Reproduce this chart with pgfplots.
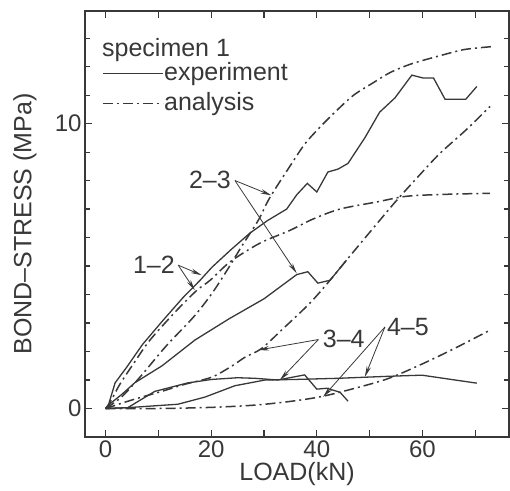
\documentclass[border=0pt]{standalone}
\usepackage{pgfplots}
\pgfplotsset{compat=1.18}
\usepackage{fontspec}
\setmainfont{Liberation Sans}
\usetikzlibrary{arrows.meta}
\definecolor{ink}{gray}{0.22}
\tikzset{dashdot/.style={dash pattern=on 10pt off 4pt on 2pt off 4pt}}
\begin{document}
\begin{tikzpicture}
\useasboundingbox (-85pt,-53pt) rectangle (425pt,437pt);
\begin{axis}[
  at={(0,0)}, anchor=south west,
  scale only axis, width=424pt, height=426pt,
  xmin=-3.9, xmax=76.4, ymin=-1, ymax=13.95,
  xtick={0,10,...,70}, xticklabels={0,,20,,40,,60,},
  ytick={0,10}, minor ytick={-1,1,2,3,4,5,6,7,8,9,11,12,13},
  major tick length=7pt, minor tick length=5pt,
  tick align=inside,
  axis line style={ink, line width=1.3pt},
  every tick/.style={ink, line width=1.1pt},
  tick label style={font=\fontsize{24}{28}\selectfont, text=ink},
  /pgf/number format/assume math mode=true,
  xlabel={LOAD(kN)}, ylabel={BOND--STRESS (MPa)},
  label style={font=\fontsize{25}{30}\selectfont, text=ink},
  xlabel style={at={(axis description cs:0.5,0)}, anchor=base, yshift=-43pt},
  ylabel style={at={(axis description cs:0,0.5)}, anchor=center, rotate=0, yshift=60pt},
  legend style={at={(axis description cs:0.04,0.883)}, anchor=north west,
    draw=none, fill=none, inner sep=0pt, row sep=5pt,
    font=\fontsize{25}{30}\selectfont, text=ink,
    nodes={inner xsep=0.5pt, inner ysep=0pt, text height=19pt, text depth=6pt},
    /tikz/every even column/.append style={column sep=0pt}},
  legend cell align=left,
  legend image code/.code={\draw[#1] (0pt,0pt) -- (60pt,0pt);},
]
% --- experiments (solid)
\addplot[ink, line width=1.3pt] coordinates {
(0,0) (0.5,0.1) (1.8,0.9) (4.0,1.45) (7.0,2.25) (10.9,3.1) (14.7,3.9) (17.9,4.5)
(20.1,4.95) (23.6,5.55) (27.3,6.15) (30.7,6.6) (34.3,7.0) (36.2,7.5) (38.2,7.9)
(40.0,7.6) (42.1,8.3) (44.0,8.4) (45.9,8.6) (49.1,9.5) (51.9,10.4) (54.8,10.9)
(58.0,11.7) (60.1,11.6) (62.1,11.6) (64.3,10.85) (68.2,10.85) (70.3,11.3)};
\addlegendentry{experiment}
\addplot[ink, line width=1.5pt, dashdot] coordinates {(0,0)};
\addlegendentry{analysis}
\addplot[ink, line width=1.3pt, forget plot] coordinates {
(0,0) (0.4,0.1) (3.1,0.5) (5.5,0.9) (10.7,1.5) (16.9,2.4) (23.4,3.15) (30.0,3.85)
(36.2,4.7) (38.3,4.8) (40.2,4.4) (42.5,4.5) (45.6,5.2)};
\addplot[ink, line width=1.3pt, forget plot] coordinates {
(0,0) (4.2,0.03) (9.3,0.6) (15.6,0.9) (20.1,1.02) (25,1.08) (28.3,1.06) (32.6,1.0)
(37.7,1.18) (40.0,0.68) (41.9,0.71) (44.4,0.57) (45.9,0.26)};
\addplot[ink, line width=1.3pt, forget plot] coordinates {
(0,0) (4.2,0.03) (13.7,0.15) (18.8,0.4) (24.5,0.8) (30.2,1.0) (36,1.02) (44,1.06)
(53.5,1.13) (59.9,1.17) (66.2,1.0) (70.3,0.89)};
% --- analysis (dash-dot)
\addplot[ink, line width=1.5pt, dashdot, smooth, forget plot] coordinates {
(0,0) (3,0.4) (6.5,1.1) (11.5,2.2) (16.6,3.2) (20,4.0) (23,4.85) (25.8,5.7) (28.9,6.6)
(31.1,7.4) (34.9,8.5) (37.8,9.3) (41,9.95) (44,10.5) (47,11.0) (50.4,11.4) (54,11.8)
(58,12.1) (63.7,12.4) (68,12.6) (73.2,12.7)};
\addplot[ink, line width=1.5pt, dashdot, smooth, forget plot] coordinates {
(0,0) (0.8,0.2) (2.7,0.85) (5.2,1.55) (8.4,2.4) (13.5,3.45) (17.3,4.15) (19.8,4.5)
(23.6,5.15) (29.2,5.8) (34.9,6.25) (39.3,6.65) (44.4,7.0) (51.4,7.25) (57.1,7.45)
(65,7.52) (72.8,7.55)};
\addplot[ink, line width=1.5pt, dashdot, smooth, forget plot] coordinates {
(0,0) (5,0.3) (10.6,0.6) (15,0.85) (20.1,1.1) (24,1.5) (26.4,1.8) (29.5,2.1) (33.6,2.8)
(38.7,3.7) (42.5,4.5) (45.6,5.2) (51,6.4) (55.1,7.3) (59.5,8.2) (63.3,8.95) (68.4,9.8)
(72.8,10.6)};
\addplot[ink, line width=1.5pt, dashdot, smooth, forget plot] coordinates {
(0,0) (10,0.0) (20,0.04) (28.3,0.12) (35,0.25) (40.9,0.42) (47,0.7) (53.5,1.05)
(59.8,1.55) (66,2.1) (72.8,2.75)};
% --- title of legend
\node[anchor=base west, font=\fontsize{25}{30}\selectfont, text=ink, inner sep=0pt]
  at (axis description cs:0.04,0.894) {specimen 1};
% --- annotations
\tikzset{ann/.style={ink, line width=0.8pt, -{Stealth[length=11pt,width=4.5pt]}},
         lab/.style={font=\fontsize{25}{30}\selectfont, text=ink, inner sep=0pt}}
\node[lab] at (axis cs:9.15,5.03) {1--2};
\draw[ann] (axis cs:13.75,5.03) -- (axis cs:18.2,4.68);
\draw[ann] (axis cs:13.75,5.03) -- (axis cs:16.9,4.15);
\node[lab] at (axis cs:19.75,8.01) {2--3};
\draw[ann] (axis cs:24.5,8.0) -- (axis cs:31.4,7.48);
\draw[ann] (axis cs:24.5,8.0) -- (axis cs:36.2,4.74);
\node[lab] at (axis cs:45.1,2.43) {3--4};
\draw[ann] (axis cs:40.3,2.42) -- (axis cs:28.9,2.05);
\draw[ann] (axis cs:40.3,2.42) -- (axis cs:33.0,1.0);
\node[lab] at (axis cs:57.25,2.85) {4--5};
\draw[ann] (axis cs:52.9,2.86) -- (axis cs:49.1,1.11);
\draw[ann] (axis cs:52.9,2.86) -- (axis cs:41.2,0.41);
\end{axis}
\end{tikzpicture}
\end{document}
